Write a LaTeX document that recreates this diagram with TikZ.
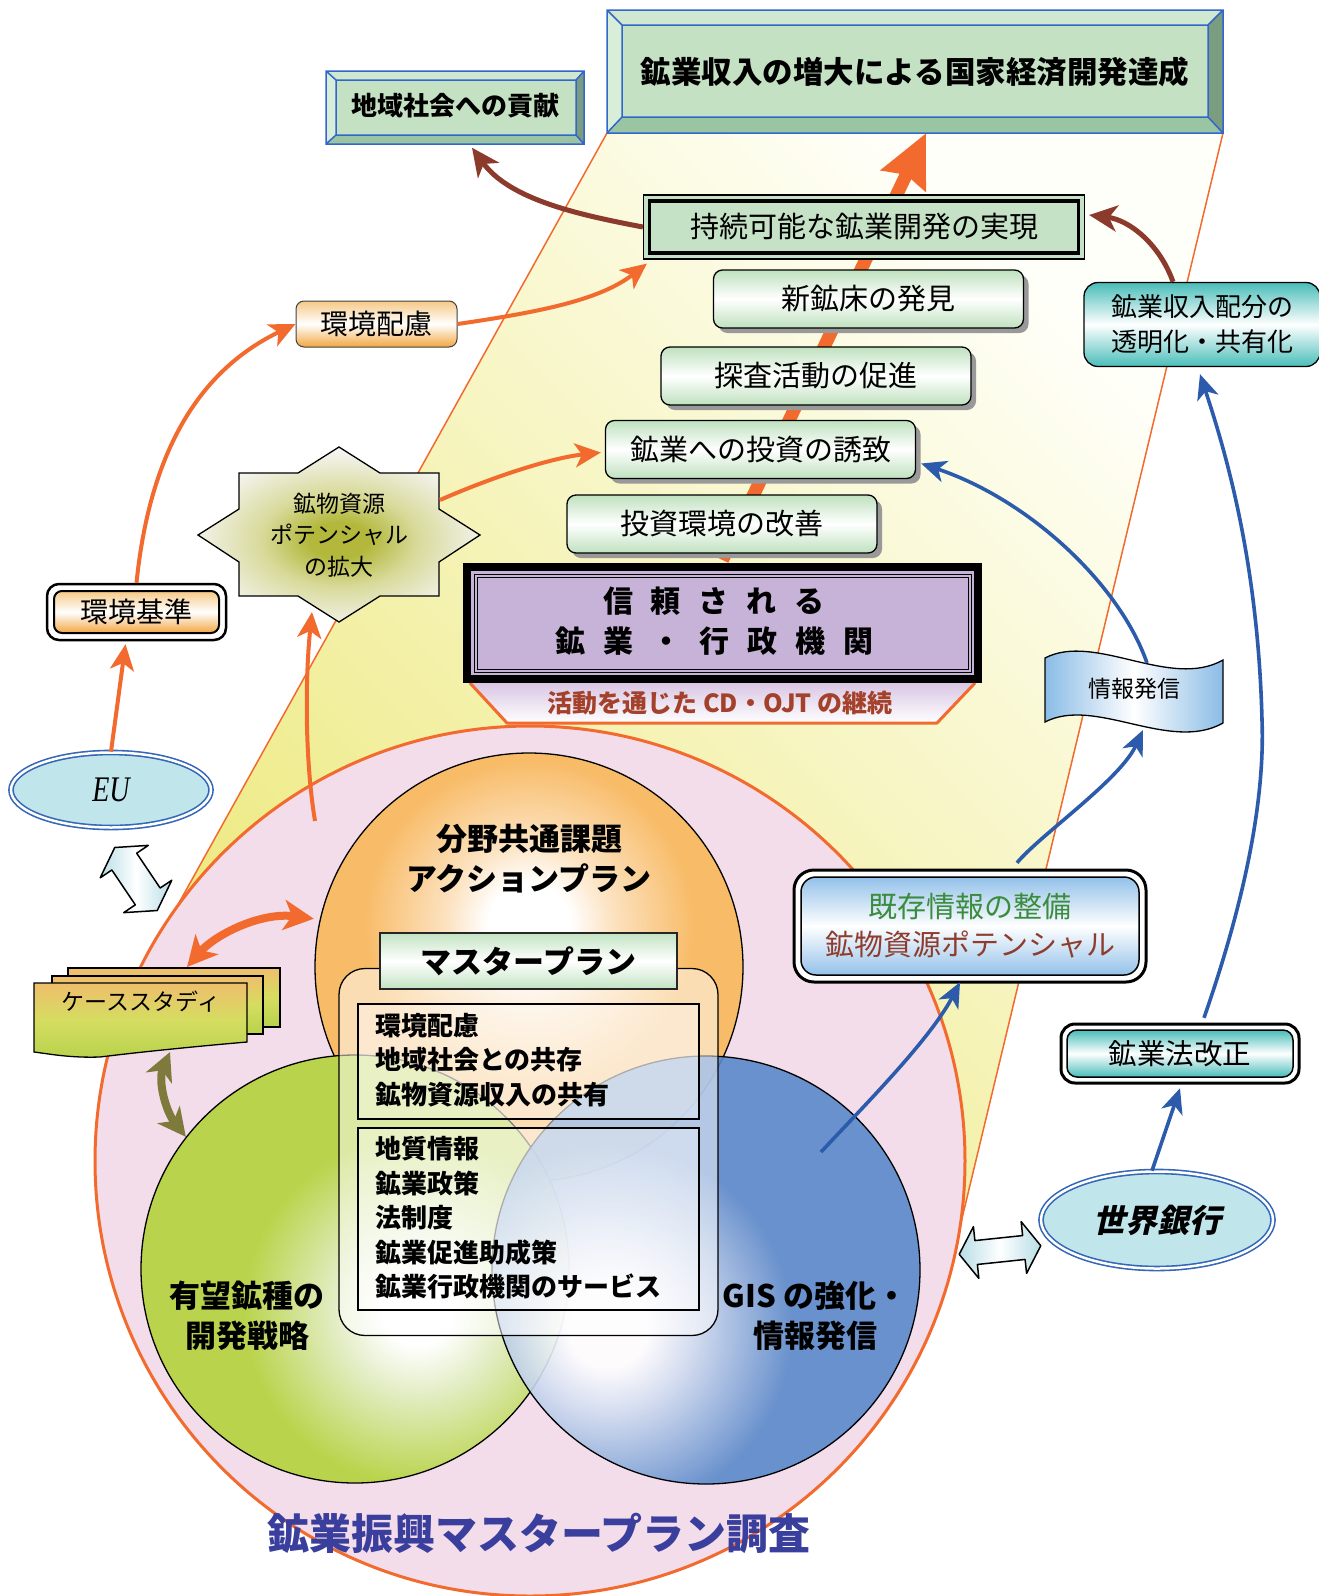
\documentclass[tikz,border=0pt]{standalone}
\usepackage{fontspec}
\setmainfont{Noto Sans CJK JP}
\newfontfamily\jpslant[FakeSlant=0.22]{Noto Sans CJK JP}
\newfontfamily\euserif[FakeStretch=0.78]{Liberation Serif}
\usetikzlibrary{arrows.meta,shadows,calc,shapes.geometric}
\newcommand\fsz[2]{\fontsize{#1}{#2}\selectfont}
\newcommand\gapx{\hspace{18pt}}
\definecolor{orangeA}{HTML}{F26A2D}
\definecolor{brownA}{HTML}{8B3A2B}
\definecolor{blueA}{HTML}{2B5BAA}
\definecolor{pinkF}{HTML}{F3DDEA}
\definecolor{yelD}{HTML}{EDE97E}
\definecolor{yelL}{HTML}{FFFFFA}
\definecolor{bevTop}{HTML}{D0E8D0}
\definecolor{bevLeft}{HTML}{D9EED9}
\definecolor{bevBot}{HTML}{9AC5A2}
\definecolor{bevRight}{HTML}{7A9C7F}
\definecolor{bevFace}{HTML}{C4E1C4}
\definecolor{bevLine}{HTML}{3366CC}
\definecolor{jizG}{HTML}{C6E2C6}
\definecolor{stepG}{HTML}{BFE1BF}
\definecolor{purpleF}{HTML}{C6B3D7}
\definecolor{trapT}{HTML}{D9C6E4}
\definecolor{cdC}{HTML}{A3412B}
\definecolor{tealC}{HTML}{49BDB9}
\definecolor{orgT}{HTML}{F6C987}
\definecolor{orgB}{HTML}{F2A640}
\definecolor{euF}{HTML}{C0E6EC}
\definecolor{euB}{HTML}{3566B8}
\definecolor{banB}{HTML}{8BBCE6}
\definecolor{kizB}{HTML}{93C1EA}
\definecolor{kizG}{HTML}{3C8C3E}
\definecolor{kizR}{HTML}{8E3C2D}
\definecolor{mpG}{HTML}{C2E3C2}
\definecolor{titleC}{HTML}{3A3E9C}
\definecolor{olvA}{HTML}{7E7A3B}
\definecolor{csT}{HTML}{EFBE6C}
\definecolor{csM}{HTML}{D5DD60}
\definecolor{csB}{HTML}{B8D24D}
\definecolor{arrB}{HTML}{B7DEE6}
\definecolor{orgC}{HTML}{F8BC69}
\definecolor{orgL}{HTML}{FCE3C2}
\definecolor{grnC}{HTML}{B9D44C}
\definecolor{grnL}{HTML}{E4EEC8}
\definecolor{bluC}{HTML}{5A89CA}
\definecolor{bluL}{HTML}{D0DCF0}
\definecolor{olvS}{HTML}{B3B83C}
\definecolor{olvM}{HTML}{D8DA9A}
\definecolor{starW}{HTML}{F5F5F3}
\pgfdeclareradialshading{ballO}{\pgfpointorigin}{color(0bp)=(white); color(4bp)=(white); color(8bp)=(orgL); color(16bp)=(orgC); color(50bp)=(orgC)}
\pgfdeclareradialshading{ballG}{\pgfpointorigin}{color(0bp)=(white); color(3bp)=(white); color(7bp)=(grnL); color(15bp)=(grnC); color(50bp)=(grnC)}
\pgfdeclareradialshading{ballB}{\pgfpointorigin}{color(0bp)=(white); color(3bp)=(white); color(6.5bp)=(bluL); color(14bp)=(bluC); color(50bp)=(bluC)}
\pgfdeclareradialshading{starS}{\pgfpointorigin}{color(0bp)=(olvS); color(5bp)=(olvS); color(13bp)=(olvM); color(25bp)=(starW); color(50bp)=(starW)}
\begin{document}
\begin{tikzpicture}[x=1pt,y=-1pt,
  orangearr/.style={draw=orangeA, line width=4pt, -{Stealth[length=26pt,width=24pt,inset=7pt]}},
  brownarr/.style={draw=brownA, line width=5pt, -{Stealth[length=28pt,width=26pt,inset=8pt]}},
  bluearr/.style={draw=blueA, line width=3.6pt, -{Stealth[length=25pt,width=22pt,inset=7pt]}},
  stepbox/.style={draw=black, line width=1.3pt, rounded corners=9pt, top color=stepG, bottom color=stepG, middle color=white, minimum width=310pt, minimum height=58pt, inner sep=0pt, drop shadow={shadow xshift=5pt, shadow yshift=-5pt, fill=gray!80, opacity=1}, font=\fsz{29}{32}},
  bevelline/.style={draw=bevLine, line width=1.5pt},
  circlbl/.style={font=\fsz{31}{40}\bfseries, align=center, inner sep=0pt},
  listtext/.style={font=\fsz{26}{34.5}\bfseries, align=left, inner sep=0pt, anchor=west},
  blockarr/.style={draw=black, line width=1.5pt, line join=round, left color=arrB, right color=arrB, middle color=white},
  vennc/.style={circle, draw=black, line width=1.3pt, minimum size=428pt, inner sep=0pt},
  dblell/.style={ellipse, draw=euB, double=white, double distance=2.5pt, line width=1.6pt, fill=euF, inner sep=0pt}
]
\useasboundingbox (0,0) rectangle (1319,1596);

% yellow quadrilateral
\coordinate (pTL) at (607,133);
\coordinate (pTR) at (1223,133);
\coordinate (pBR) at (958,1235);
\coordinate (pBL) at (150,955);
\shade[top color=yelL, bottom color=yelD, shading angle=-45] (pTL)--(pTR)--(pBR)--(pBL)--cycle;
\draw[orangeA, line width=1.5pt] (pTL)--(pBL) (pTR)--(pBR);

% top goal bevel box
\fill[bevTop] (607,10)--(1223,10)--(1208,25)--(622,25)--cycle;
\fill[bevLeft] (607,10)--(622,25)--(622,117)--(607,133)--cycle;
\fill[bevBot] (607,133)--(622,117)--(1208,117)--(1223,133)--cycle;
\fill[bevRight] (1223,10)--(1208,25)--(1208,117)--(1223,133)--cycle;
\fill[bevFace] (622,25) rectangle (1208,117);
\draw[bevelline] (607,10) rectangle (1223,133) (622,25) rectangle (1208,117)
  (607,10)--(622,25) (1223,10)--(1208,25) (607,133)--(622,117) (1223,133)--(1208,117);
\node[font=\fsz{30.5}{34}\bfseries, minimum width=616pt, minimum height=123pt, inner sep=0pt] (topgoal) at (915,71.5) {鉱業収入の増大による国家経済開発達成};

% local bevel box
\fill[bevTop] (326,71)--(584,71)--(576,80)--(336,80)--cycle;
\fill[bevLeft] (326,71)--(336,80)--(336,135)--(326,144)--cycle;
\fill[bevBot] (326,144)--(336,135)--(576,135)--(584,144)--cycle;
\fill[bevRight] (584,71)--(576,80)--(576,135)--(584,144)--cycle;
\fill[bevFace] (336,80) rectangle (576,135);
\draw[bevelline] (326,71) rectangle (584,144) (336,80) rectangle (576,135)
  (326,71)--(336,80) (584,71)--(576,80) (326,144)--(336,135) (584,144)--(576,135);
\node[font=\fsz{26}{30}\bfseries, minimum width=258pt, minimum height=73pt, inner sep=0pt] (local) at (455,106) {地域社会への貢献};

% pink circle
\node[circle, draw=orangeA, line width=3pt, fill=pinkF, minimum size=870pt, inner sep=0pt] (pink) at (530,1161) {};

% venn circles
\begin{scope}
  \clip (529,967) circle (214pt);
  \shade[shading=ballO] (529,925) circle (256pt);
\end{scope}
\node[vennc] (orangec) at (529,967) {};
\begin{scope}
  \clip (355,1269) circle (214pt);
  \shade[shading=ballG] (418,1310) circle (290pt);
\end{scope}
\node[vennc] (greenc) at (355,1269) {};
\begin{scope}
  \clip (706,1270) circle (214pt);
  \shade[shading=ballB, fill opacity=0.9] (608,1328) circle (330pt);
\end{scope}
\node[vennc] (bluec) at (706,1270) {};

% master plan box
\node[draw=black, line width=1.3pt, rounded corners=26pt, fill=white, fill opacity=0.5, minimum width=379pt, minimum height=367pt, inner sep=0pt] (master) at (528.5,1152) {};
\node[draw=black, line width=1.3pt, fill=white, fill opacity=0.35, minimum width=341pt, minimum height=115pt, inner sep=0pt] (list1) at (528.5,1061.5) {};
\node[draw=black, line width=1.3pt, fill=white, fill opacity=0.35, minimum width=341pt, minimum height=182pt, inner sep=0pt] (list2) at (528.5,1219) {};
\node[listtext] (list1t) at (375,1060) {環境配慮\\地域社会との共存\\鉱物資源収入の共有};
\node[listtext] (list2t) at (375,1218) {地質情報\\鉱業政策\\法制度\\鉱業促進助成策\\鉱業行政機関のサービス};
\node[draw=black!85, line width=1.3pt, top color=mpG, bottom color=mpG, middle color=white, minimum width=297pt, minimum height=56pt, inner sep=0pt, font=\fsz{31}{36}\bfseries] (mplabel) at (528.5,961) {マスタープラン};

% circle labels and title
\node[circlbl] (orangelbl) at (529,859) {分野共通課題\\アクションプラン};
\node[circlbl] (greenlbl) at (247,1316) {有望鉱種の\\開発戦略};
\node[circlbl] (bluelbl) at (815,1316) {GIS の強化・\\情報発信};
\node[font=\fsz{42}{50}\bfseries, text=titleC, inner sep=0pt] (title) at (539,1533) {鉱業振興マスタープラン調査};

% trapezoid + purple box
\path[top color=trapT, bottom color=white] (470,683) -- (507,723) -- (937,723) -- (975,683) -- cycle;
\draw[orangeA, line width=3pt, line join=round] (470,683) -- (507,723) -- (937,723) -- (975,683);
\node[font=\fsz{25}{30}\bfseries, text=cdC, inner sep=0pt] (cdtext) at (720,703) {活動を通じた CD・OJT の継続};
\node[draw=black, line width=8pt, fill=purpleF, minimum width=511pt, minimum height=112pt, inner sep=0pt] (purple) at (722.5,623) {};
\draw[line width=0.9pt] ($(purple.north west)+(11,11)$) rectangle ($(purple.south east)+(-11,-11)$);
\draw[line width=0.9pt] ($(purple.north west)+(14,14)$) rectangle ($(purple.south east)+(-14,-14)$);
\node[font=\fsz{30}{40}\bfseries, align=center, inner sep=0pt] (purpletext) at (714,621) {信\gapx 頼\gapx さ\gapx れ\gapx る\\鉱\gapx 業\gapx ・\gapx 行\gapx 政\gapx 機\gapx 関};

% big orange arrow
\draw[draw=orangeA, line width=13pt, -{Stealth[length=52pt,width=48pt,inset=6pt]}] ([yshift=3pt]purple.north) -- ([xshift=11pt]topgoal.south);

% sustainable box
\node[draw=black, line width=1.2pt, fill=jizG, minimum width=441pt, minimum height=64pt, inner sep=0pt, font=\fsz{29}{32}] (jizoku) at (864,227) {持続可能な鉱業開発の実現};
\draw[line width=3.5pt] ($(jizoku.north west)+(6.5,6.5)$) rectangle ($(jizoku.south east)+(-6.5,-6.5)$);

% steps
\node[stepbox] (shin) at (868.5,299) {新鉱床の発見};
\node[stepbox] (tansa) at (816,376) {探査活動の促進};
\node[stepbox] (toushi) at (760.5,449.5) {鉱業への投資の誘致};
\node[stepbox] (kaizen) at (722,524) {投資環境の改善};

% revenue box
\node[draw=black, line width=1.3pt, rounded corners=14pt, top color=tealC, bottom color=tealC, middle color=white, minimum width=236pt, minimum height=84pt, inner sep=0pt, align=center, font=\fsz{26}{35}] (haibun) at (1202,324.5) {鉱業収入配分の\\透明化・共有化};

% environment boxes
\node[draw=black!75, line width=1pt, rounded corners=8pt, top color=orgT, bottom color=orgB, middle color=white, minimum width=161pt, minimum height=46pt, inner sep=0pt, font=\fsz{28}{32}] (kh) at (376.5,324) {環境配慮};
\path[draw=black, line width=2.5pt, fill=white, rounded corners=12pt] (47,584) rectangle (226,640);
\path[draw=black, line width=2pt, rounded corners=8pt, top color=orgT, bottom color=orgB, middle color=white] (54,591) rectangle (219,633);
\node[minimum width=181pt, minimum height=58pt, inner sep=0pt, font=\fsz{28}{32}] (kijun) at (136.5,612) {環境基準};

% star
\def\starpath{(239,473)--(298,473)--(339,447)--(380,473)--(439,473)--(439,509)--(480,535)--(439,562)--(439,596)--(380,596)--(339,622)--(298,596)--(239,596)--(239,562)--(198,535)--(239,509)--cycle}
\fill[starW] \starpath;
\begin{scope}
  \clip \starpath;
  \shade[shading=starS] (339,540) ellipse (150pt and 90pt);
\end{scope}
\draw[black, line width=1.3pt] \starpath;
\node[font=\fsz{23}{31.5}, align=center, inner sep=0pt] (star) at (339,535) {鉱物資源\\ポテンシャル\\の拡大};

% EU
\node[dblell, minimum width=200pt, minimum height=75pt, font=\euserif\itshape\fsz{36}{40}] (eu) at (111,790) {EU};

% banner
\path[draw=black, line width=1.3pt, left color=banB, right color=banB, middle color=white] (1045,658) .. controls (1095,632) and (1170,690) .. (1223,660) -- (1223,723) .. controls (1170,753) and (1095,696) .. (1045,722) -- cycle;
\node[font=\fsz{23}{28}, inner sep=0pt] (banner) at (1134,689) {情報発信};

% existing info box
\path[draw=black, line width=3pt, fill=white, rounded corners=20pt] (794,870) rectangle (1146,982);
\path[draw=black, line width=1.5pt, rounded corners=15pt, top color=kizB, bottom color=kizB, middle color=white] (801,877) rectangle (1139,975);
\node[minimum width=352pt, minimum height=112pt, inner sep=0pt, align=center, font=\fsz{29}{38}] (kizon) at (970,926) {\textcolor{kizG}{既存情報の整備}\\\textcolor{kizR}{鉱物資源ポテンシャル}};

% mining law box
\path[draw=black, line width=3pt, fill=white, rounded corners=14pt] (1061,1024) rectangle (1299,1083);
\path[draw=black, line width=1.5pt, rounded corners=10pt, top color=tealC, bottom color=tealC, middle color=white] (1067,1030) rectangle (1293,1077);
\node[minimum width=238pt, minimum height=59pt, inner sep=0pt, font=\fsz{28.5}{32}] (houkaisei) at (1180,1053.5) {鉱業法改正};

% world bank
\node[dblell, minimum width=232pt, minimum height=97pt, font=\jpslant\bfseries\fsz{32}{36}] (wb) at (1157,1220) {世界銀行};

% case study stack
\path[draw=black, line width=1.3pt, top color=csT, bottom color=csB, middle color=csM] (68,968) rectangle (280,1027);
\path[draw=black, line width=1.3pt, top color=csT, bottom color=csB, middle color=csM] (52,976) rectangle (263,1034);
\path[draw=black, line width=1.3pt, top color=csT, bottom color=csB, middle color=csM] (34,983) -- (247,983) -- (247,1042) .. controls (200,1046) and (140,1052) .. (100,1057) .. controls (70,1058) and (50,1054) .. (34,1052) -- cycle;
\node[font=\fsz{23}{28}, inner sep=0pt] (casestudy) at (141,1002) {ケーススタディ};

% block double arrows
\begin{scope}[shift={(136,879)}, rotate=-56]
  \path[blockarr] (-38,0)--(-21,-29)--(-21,-15)--(21,-15)--(21,-29)--(38,0)--(21,29)--(21,15)--(-21,15)--(-21,29)--cycle;
\end{scope}
\begin{scope}[shift={(1000,1250)}, rotate=6]
  \path[blockarr] (-41,0)--(-24,-26)--(-24,-12)--(24,-12)--(24,-26)--(41,0)--(24,26)--(24,12)--(-24,12)--(-24,26)--cycle;
\end{scope}

% connectors
\draw[orangearr] (eu.north) -- ([xshift=-11pt,yshift=-3pt]kijun.south);
\draw[orangearr] (kijun.north) .. controls (150,450) and (200,370) .. (kh.west);
\draw[orangearr] (kh.east) .. controls (540,312) and (600,300) .. ([xshift=4pt,yshift=-4pt]jizoku.south west);
\draw[orangearr] ([xshift=101pt,yshift=35pt]star.center) .. controls (490,478) and (550,458) .. ([xshift=-4pt,yshift=-3pt]toushi.west);
\coordinate (pinkstart) at (315,821);
\draw[orangearr] (pinkstart) .. controls (305,760) and (305,680) .. ([xshift=-27pt,yshift=-77pt]star.center);
\draw[brownarr] (jizoku.west) .. controls (580,215) and (510,200) .. ([xshift=17pt,yshift=-5pt]local.south);
\draw[brownarr] ([xshift=-29pt]haibun.north) .. controls (1160,245) and (1130,220) .. ([xshift=4pt,yshift=12pt]jizoku.east);
\draw[bluearr] ([xshift=13pt,yshift=26pt]banner.center) .. controls (1120,585) and (1030,500) .. ([xshift=5pt,yshift=-14pt]toushi.east);
\draw[bluearr] ([xshift=47pt,yshift=7pt]kizon.north) .. controls (1040,835) and (1120,780) .. ([xshift=9pt,yshift=-41pt]banner.center);
\draw[bluearr] ([xshift=115pt,yshift=118pt]bluec.center) .. controls (860,1110) and (930,1040) .. ([xshift=-10pt]kizon.south);
\draw[bluearr] ([xshift=24pt,yshift=6pt]houkaisei.north) .. controls (1245,900) and (1265,800) .. (1262,720) .. controls (1258,560) and (1225,450) .. ([xshift=-2pt,yshift=-7pt]haibun.south);
\draw[bluearr] ([xshift=-5pt]wb.north) -- ([yshift=-5pt]houkaisei.south);
\draw[draw=orangeA, line width=8pt, {Stealth[length=30pt,width=30pt,inset=8pt]}-{Stealth[length=30pt,width=30pt,inset=8pt]}] ([xshift=46pt,yshift=35pt]casestudy.center) .. controls (215,935) and (260,912) .. ([xshift=-6pt]orangec.167);
\draw[draw=olvA, line width=8pt, {Stealth[length=28pt,width=28pt,inset=8pt]}-{Stealth[length=28pt,width=28pt,inset=8pt]}] ([xshift=29pt,yshift=-50pt]casestudy.center) .. controls (158,1080) and (165,1110) .. (greenc.142);
\end{tikzpicture}
\end{document}
